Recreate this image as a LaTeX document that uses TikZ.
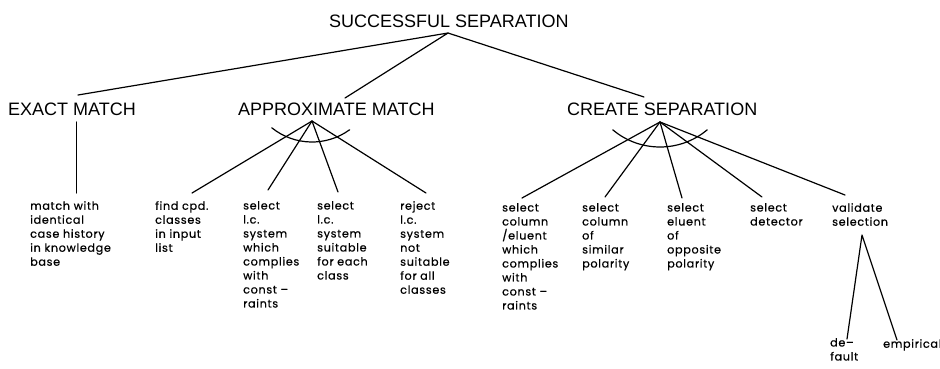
\documentclass[tikz,border=0pt]{standalone}
\usepackage{fontspec}
\setmainfont{Liberation Sans}
\newfontfamily\leaffont[LetterSpace=6,FakeBold=0.6]{Poppins}
\usetikzlibrary{calc}
\begin{document}
\begin{tikzpicture}[x=1pt,y=-1pt,
  heading/.style={font=\fontsize{18}{20}\selectfont, inner sep=0pt, anchor=base west},
  leaf/.style={font=\leaffont\fontsize{11.2}{14}\selectfont, inner sep=0pt, anchor=north west, align=left},
  branch/.style={line width=1.2pt, line cap=round, line join=round}]
\useasboundingbox (0,0) rectangle (940,368);
\fill[white] (0,0) rectangle (940,368);

% goal and sub-goals
\node[heading] (ss) at (329,27) {SUCCESSFUL SEPARATION};
\node[heading] (em) at (8,115) {EXACT MATCH};
\node[heading] (am) at (238,115) {APPROXIMATE MATCH};
\node[heading] (cs) at (567,115) {CREATE SEPARATION};

% junction points under / above the headings
\coordinate (ss-j) at (448,33);
\coordinate (em-in) at (78,95);
\coordinate (am-in) at (345,98);
\coordinate (cs-in) at (644,97);
\coordinate (em-j) at (76.5,122);
\coordinate (am-j) at (312,121);
\coordinate (cs-j) at (660,122);

% leaf tasks
\node[leaf] (e1) at (30,201) {match with\\identical\\case history\\in knowledge\\base};
\node[leaf] (a1) at (155,201) {find cpd.\\classes\\in input\\list};
\node[leaf] (a2) at (243,201) {select\\l.c.\\system\\which\\complies\\with\\const –\\raints};
\node[leaf] (a3) at (317,201) {select\\l.c.\\system\\suitable\\for each\\class};
\node[leaf] (a4) at (400,201) {reject\\l.c.\\system\\not\\suitable\\for all\\classes};
\node[leaf] (c1) at (502,203) {select\\column\\/eluent\\which\\complies\\with\\const –\\raints};
\node[leaf] (c2) at (582,203) {select\\column\\of\\similar\\polarity};
\node[leaf] (c3) at (667,203) {select\\eluent\\of\\opposite\\polarity};
\node[leaf] (c4) at (750,203) {select\\detector};
\node[leaf] (c5) at (832,203) {validate\\selection};
\node[leaf] (v1) at (830,338) {de–\\fault};
\node[leaf] (v2) at (883,339) {empirical};

% connector ends above the leaves
\coordinate (e1-t) at (76.5,193);
\coordinate (a1-t) at (192,193);
\coordinate (a2-t) at (268,190);
\coordinate (a3-t) at (338,192);
\coordinate (a4-t) at (426,193);
\coordinate (c1-t) at (522,198);
\coordinate (c2-t) at (605,197);
\coordinate (c3-t) at (682,198);
\coordinate (c4-t) at (762,197);
\coordinate (c5-t) at (845,195);
\coordinate (c5-j) at (862,235);
\coordinate (v1-t) at (847,339);
\coordinate (v2-t) at (897,340);

% tree branches
\draw[branch] (em-in) -- (ss-j) -- (am-in);
\draw[branch] (ss-j) -- (cs-in);
\draw[branch] (em-j) -- (e1-t);
\foreach \t in {a1,a2,a3,a4} \draw[branch] (am-j) -- (\t-t);
\foreach \t in {c1,c2,c3,c4,c5} \draw[branch] (cs-j) -- (\t-t);
\draw[branch] (v1-t) -- (c5-j) -- (v2-t);

% AND arcs
\draw[branch] (am-j) ++(0,-43) ++(129:64) arc[start angle=129, end angle=54, radius=64];
\draw[branch] (cs-j) ++(0,-48.5) ++(130:73.5) arc[start angle=130, end angle=50, radius=73.5];
\end{tikzpicture}
\end{document}
